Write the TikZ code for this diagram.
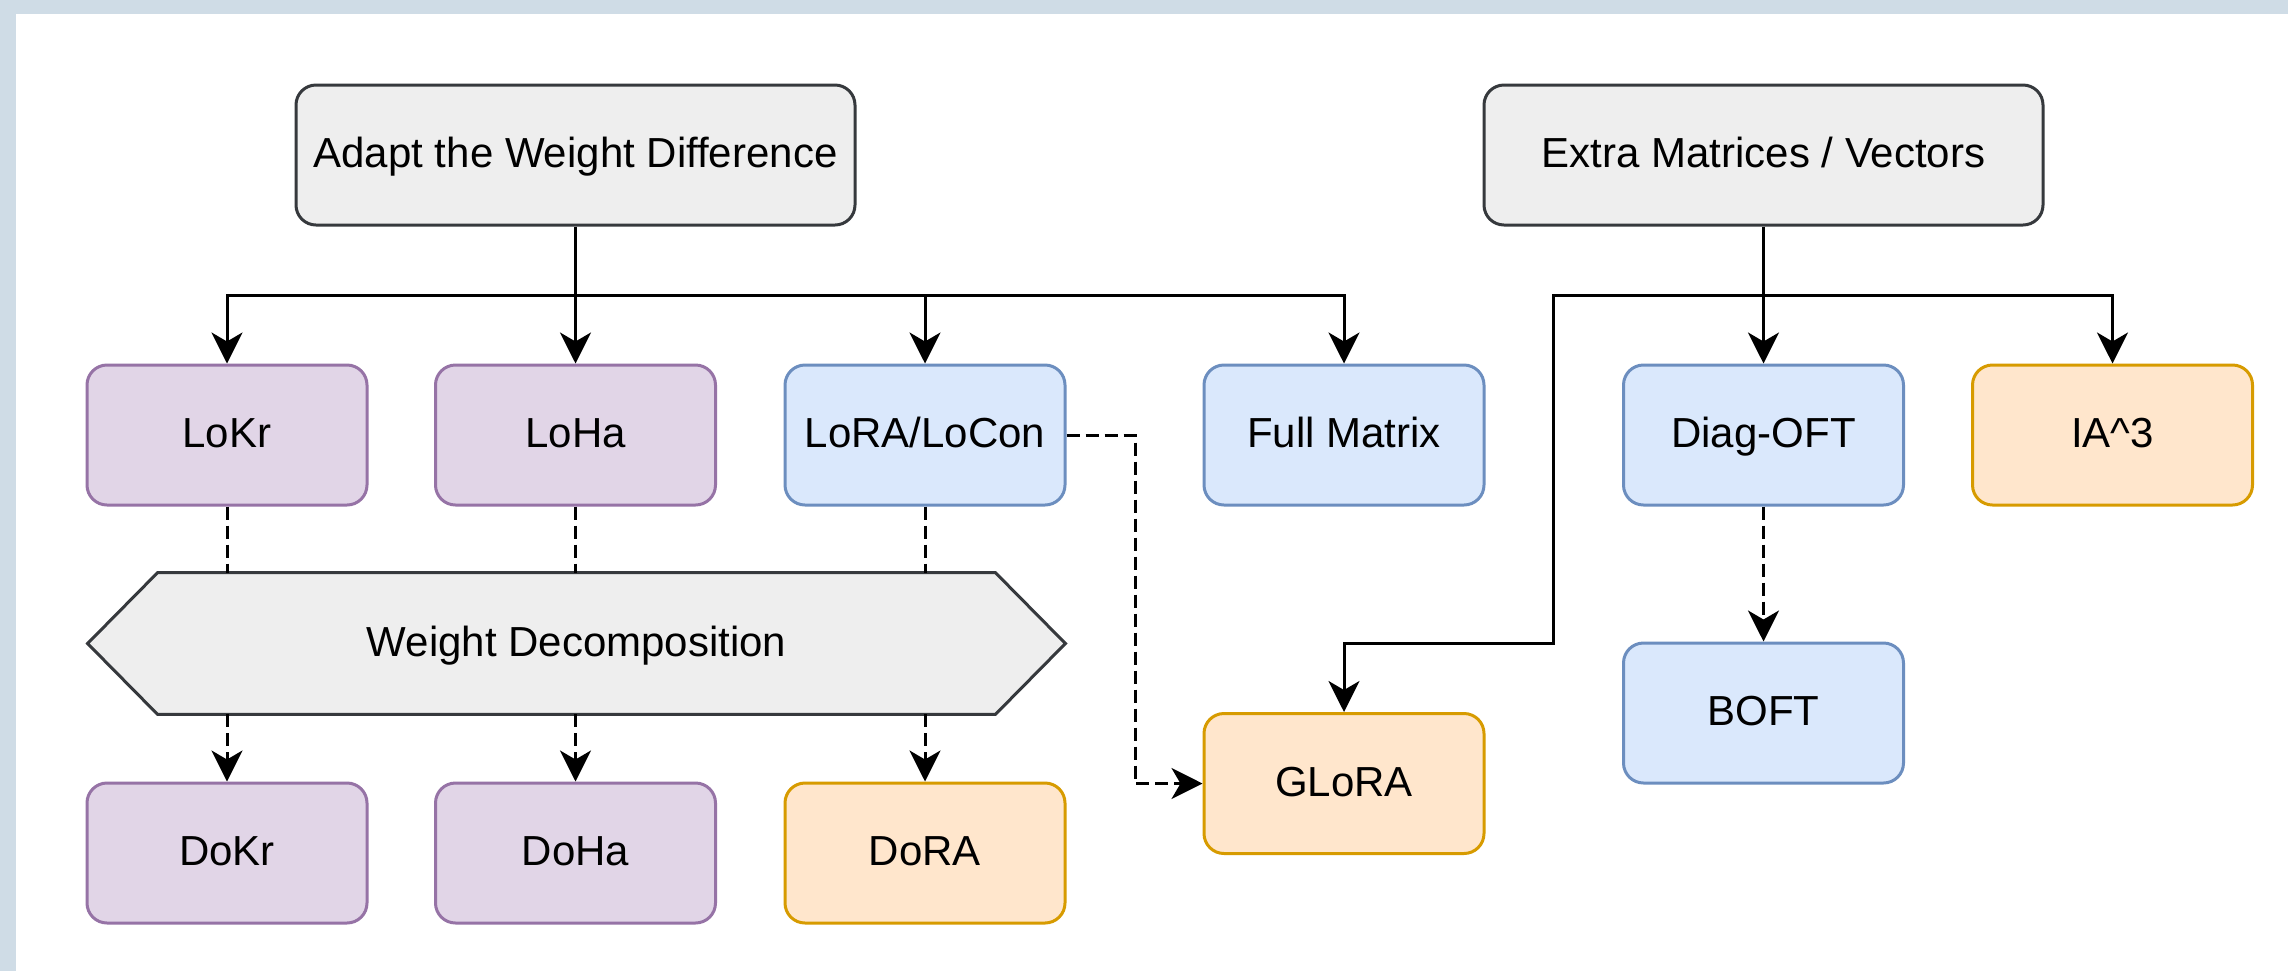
\documentclass[tikz,border=0pt]{standalone}
\usepackage{fontspec}
\setmainfont{Liberation Sans}
\usetikzlibrary{arrows.meta}

\definecolor{framebg}{HTML}{CFDCE6}
\definecolor{purfill}{HTML}{E1D5E7}
\definecolor{purline}{HTML}{9673A6}
\definecolor{bluefill}{HTML}{DAE8FC}
\definecolor{blueline}{HTML}{6C8EBF}
\definecolor{orfill}{HTML}{FFE6CC}
\definecolor{orline}{HTML}{D79B00}
\definecolor{grayfill}{HTML}{EEEEEE}
\definecolor{grayline}{HTML}{36393D}

\tikzset{
  label text/.style={font=\fontsize{21}{25}\selectfont, text height=15.1pt, text depth=2.5pt},
  box/.style={rectangle, rounded corners=10pt, line width=1.5pt,
    minimum width=140pt, minimum height=70pt, inner sep=0pt, label text},
  purbox/.style={box, draw=purline, fill=purfill},
  bluebox/.style={box, draw=blueline, fill=bluefill},
  orbox/.style={box, draw=orline, fill=orfill},
  graybox/.style={box, draw=grayline, fill=grayfill, minimum width=279.5pt},
  link/.style={line width=1.5pt, draw=black},
  arr/.style={-{Stealth[length=15.5pt, width=15.5pt, inset=4.5pt]}},
  dsh/.style={dash pattern=on 6.5pt off 3pt},
}

\begin{document}
\begin{tikzpicture}[x=0.5pt, y=-0.5pt]
  % page and frame
  \useasboundingbox (0,0) rectangle (2288,971);
  \fill[framebg] (0,0) rectangle (2288,971);
  \fill[white] (16,14) rectangle (2288,971);

  % headers
  \node[graybox] (adapt) at (575.5,155) {Adapt the Weight Difference};
  \node[graybox] (extra) at (1763.5,155) {Extra Matrices / Vectors};

  % first row
  \node[purbox]  (lokr) at (227,435)    {LoKr};
  \node[purbox]  (loha) at (575.5,435)  {LoHa};
  \node[bluebox] (lora) at (925,435)    {LoRA/LoCon};
  \node[bluebox] (full) at (1344,435)   {Full Matrix};
  \node[bluebox] (diag) at (1763.5,435) {Diag-OFT};
  \node[orbox]   (ia3)  at (2112.5,435) {IA\^{}3};

  % weight decomposition band: hexagon outline around an invisible frame node
  \node[rectangle, minimum width=488.5pt, minimum height=70.5pt, inner sep=0pt] (wd) at (576.5,643.5) {};
  \filldraw[fill=grayfill, draw=grayline, line width=1.5pt, line join=miter]
    (wd.west) -- ([xshift=35pt]wd.north west) -- ([xshift=-35pt]wd.north east)
    -- (wd.east) -- ([xshift=-35pt]wd.south east) -- ([xshift=35pt]wd.south west) -- cycle;
  \node[label text, inner sep=0pt] (wdlabel) at (wd.center) {Weight Decomposition};

  % lower rows
  \node[orbox]   (glora) at (1344,783.5) {GLoRA};
  \node[bluebox] (boft)  at (1763.5,713) {BOFT};
  \node[purbox]  (dokr)  at (227,853)    {DoKr};
  \node[purbox]  (doha)  at (575.5,853)  {DoHa};
  \node[orbox]   (dora)  at (925,853)    {DoRA};

  % routing points
  \coordinate (hA) at (575.5,295);
  \coordinate (hB) at (1763.5,295);
  \coordinate (kB) at (1553,295);
  \coordinate (kC) at (1553,643);
  \coordinate (kD) at (1135,435);

  % solid tree connectors
  \draw[link, arr] (adapt.south) -- (loha.north);
  \draw[link, arr] (hA) -| (lokr.north);
  \draw[link, arr] (hA) -| (lora.north);
  \draw[link, arr] (hA) -| (full.north);
  \draw[link, arr] (extra.south) -- (diag.north);
  \draw[link, arr] (hB) -| (ia3.north);
  \draw[link, arr] (hB) -- (kB) -- (kC) -| (glora.north);

  % dashed connectors through the decomposition band
  \draw[link, dsh] (lokr.south) -- (lokr.south |- wd.north);
  \draw[link, dsh] (loha.south) -- (loha.south |- wd.north);
  \draw[link, dsh] (lora.south) -- (lora.south |- wd.north);
  \draw[link, dsh, arr] (dokr.north |- wd.south) -- (dokr.north);
  \draw[link, dsh, arr] (doha.north |- wd.south) -- (doha.north);
  \draw[link, dsh, arr] (dora.north |- wd.south) -- (dora.north);

  % other dashed connectors
  \draw[link, dsh, arr] (lora.east) -- (kD) |- (glora.west);
  \draw[link, dsh, arr] (diag.south) -- (boft.north);
\end{tikzpicture}
\end{document}
